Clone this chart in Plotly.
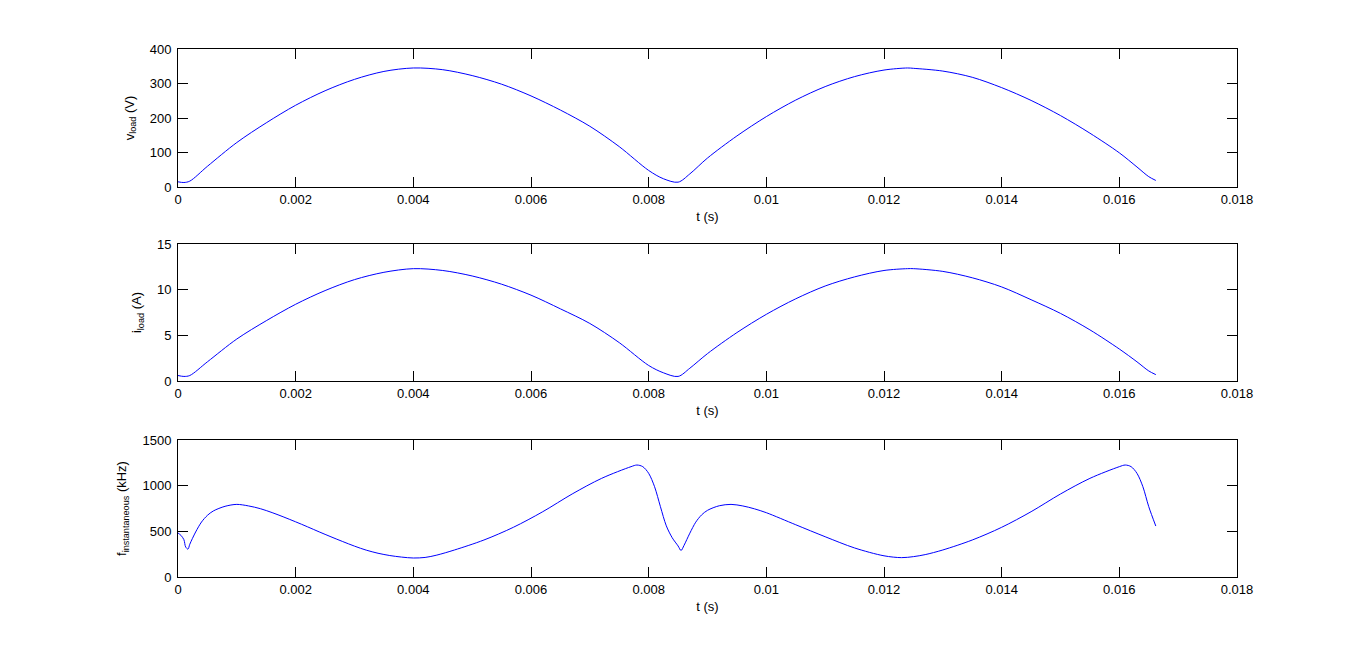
import plotly.graph_objects as go
from plotly.subplots import make_subplots

# load voltage (V)
t_v = [0, 0.0001, 0.0002, 0.0005, 0.001, 0.0015, 0.002, 0.0025, 0.003, 0.0035,
       0.004, 0.0045, 0.005, 0.0055, 0.006, 0.0065, 0.007, 0.0075, 0.008, 0.00825,
       0.0085, 0.0087, 0.009, 0.0095, 0.01, 0.0105, 0.011, 0.0115, 0.012, 0.0124,
       0.0125, 0.013, 0.0135, 0.014, 0.0145, 0.015, 0.0155, 0.016, 0.0163, 0.0165, 0.01662]
v_load = [15, 13, 17, 60, 129, 186, 237, 279, 312, 335,
          345, 340, 323, 298, 264, 223, 176, 117, 48, 24,
          14, 38, 84, 148, 204, 252, 291, 320, 339, 345,
          344, 336, 318, 288, 251, 207, 156, 99, 58, 30, 19]

# load current (A)
i_load = [0.6, 0.5, 0.6, 2.1, 4.6, 6.6, 8.4, 9.9, 11.1, 11.9,
          12.3, 12.1, 11.5, 10.6, 9.4, 7.9, 6.3, 4.2, 1.7, 0.9,
          0.5, 1.4, 3.0, 5.3, 7.3, 9.0, 10.4, 11.4, 12.1, 12.3,
          12.3, 12.0, 11.3, 10.3, 8.9, 7.4, 5.6, 3.5, 2.1, 1.1, 0.7]

# instantaneous switching frequency (kHz)
t_f = [0, 0.00005, 0.0001, 0.00013, 0.00017, 0.0002, 0.0003, 0.0004, 0.0005, 0.0006,
       0.0008, 0.001, 0.0012, 0.0014, 0.0016, 0.0018, 0.002, 0.0022, 0.0024, 0.0026,
       0.0028, 0.003, 0.0032, 0.0034, 0.0036, 0.0038, 0.004, 0.0042, 0.0044, 0.0047,
       0.0052, 0.0057, 0.0062, 0.0067, 0.0072, 0.0077, 0.0078, 0.0079, 0.008, 0.0081,
       0.0082, 0.0083, 0.0084, 0.0085, 0.00855, 0.0086, 0.0087, 0.0088, 0.0089, 0.009,
       0.0092, 0.0094, 0.0096, 0.0098, 0.01, 0.0105, 0.011, 0.0115, 0.012, 0.0123,
       0.0125, 0.0127, 0.013, 0.0135, 0.014, 0.0145, 0.015, 0.0155, 0.016, 0.0161, 0.0162,
       0.0163, 0.0164, 0.0165, 0.01662]
f_inst = [482, 456, 409, 329, 305, 358, 493, 602, 675, 723,
          774, 795, 778, 748, 705, 656, 604, 550, 494, 440,
          388, 338, 294, 260, 235, 218, 208, 214, 240, 296,
          405, 544, 715, 909, 1080, 1208, 1226, 1208, 1135, 989,
          770, 560, 430, 340, 290, 345, 480, 600, 680, 730,
          780, 795, 778, 746, 704, 572, 441, 318, 232, 212,
          223, 245, 296, 405, 544, 715, 909, 1080, 1208, 1226, 1208,
          1135, 989, 770, 558]

x_ticks = [0, 0.002, 0.004, 0.006, 0.008, 0.01, 0.012, 0.014, 0.016, 0.018]
x_labels = ["0", "0.002", "0.004", "0.006", "0.008", "0.01", "0.012", "0.014", "0.016", "0.018"]

FONT = "Liberation Sans, Arial, Helvetica, sans-serif"
W, H = 1366, 652

fig = make_subplots(rows=3, cols=1)

series = [(t_v, v_load), (t_v, i_load), (t_f, f_inst)]
for r, (tx, ys) in enumerate(series, start=1):
    fig.add_trace(go.Scatter(x=tx, y=ys, mode="lines",
                             line=dict(color="#0000ff", width=1, shape="spline", smoothing=0.9),
                             showlegend=False, hoverinfo="skip"), row=r, col=1)

# panel pixel boxes (top, bottom) in the 652 px tall page
boxes = [(49, 187), (244, 381), (440, 577)]
y_ranges = [[0, 400], [0, 15], [0, 1500]]
y_dticks = [100, 5, 500]
y_titles = ["v<sub>load</sub> (V)", "i<sub>load</sub> (A)", "f<sub>instantaneous</sub> (kHz)"]

axis_common = dict(showgrid=False, zeroline=False, showline=True, linecolor="black",
                   linewidth=1, mirror="ticks", ticks="inside", ticklen=10,
                   tickcolor="black", tickfont=dict(size=13, color="black"),
                   automargin=False)

for r in range(1, 4):
    top, bot = boxes[r - 1]
    fig.update_xaxes(range=[0, 0.018], tickvals=x_ticks, ticktext=x_labels,
                     domain=[178 / W, 1237 / W],
                     title=dict(text="t (s)", standoff=6, font=dict(size=13)),
                     **axis_common, row=r, col=1)
    fig.update_yaxes(range=y_ranges[r - 1], dtick=y_dticks[r - 1],
                     domain=[1 - bot / H, 1 - top / H], ticklabelstandoff=3,
                     title=dict(text=y_titles[r - 1], standoff=12, font=dict(size=13)),
                     **axis_common, row=r, col=1)

fig.update_layout(width=W, height=H, margin=dict(l=0, r=0, t=0, b=0),
                  paper_bgcolor="white", plot_bgcolor="white",
                  font=dict(family=FONT, color="black", size=13))

fig.write_html("out.html", config={"displayModeBar": False},
               post_script="document.body.style.margin='0';document.body.style.overflow='hidden';")
